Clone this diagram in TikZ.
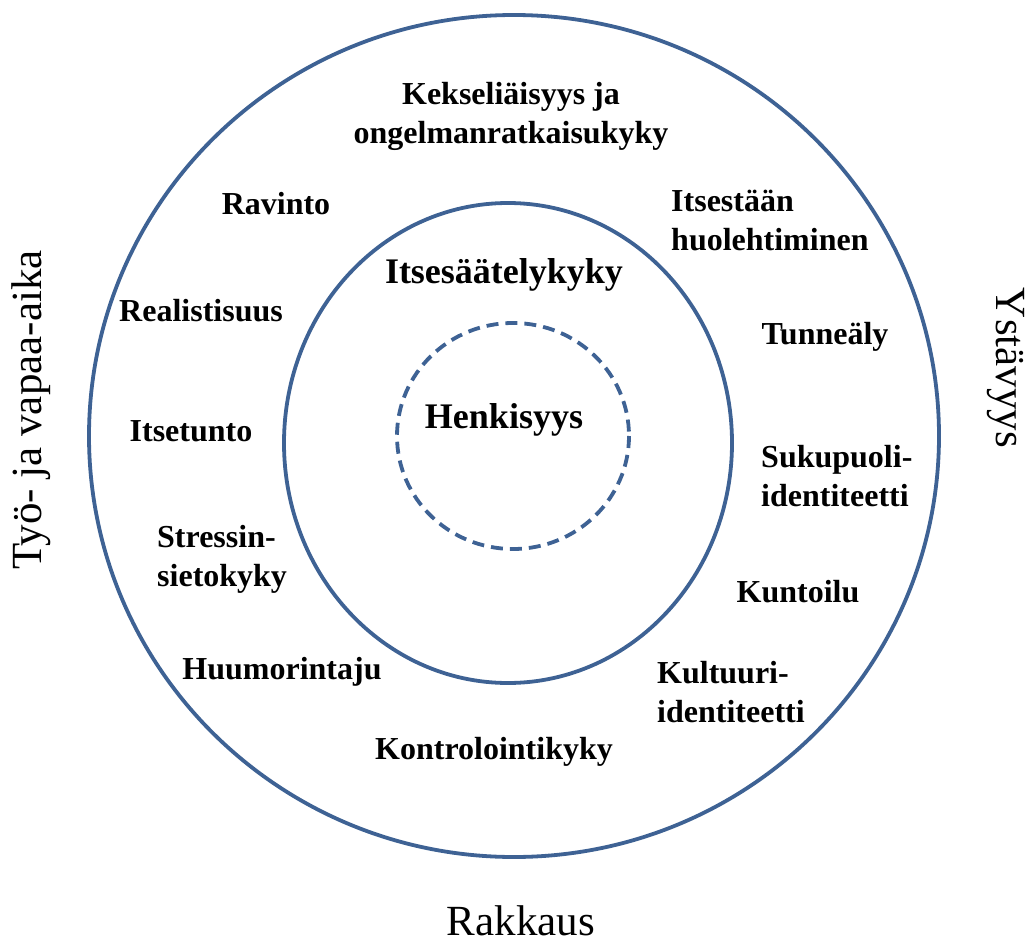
\documentclass[tikz,border=0pt]{standalone}
\usepackage{fontspec}
\setmainfont{Liberation Serif}
\usetikzlibrary{positioning}

\definecolor{ringblue}{RGB}{62,98,148}

\begin{document}
\begin{tikzpicture}[x=1pt, y=-1pt]
    % Define styles for rings and labels
    \tikzset{ring/.style={draw=ringblue, line width=3.8pt},
             trait/.style={font=\fontsize{32}{39}\selectfont\bfseries, inner sep=0pt, align=center},
             traitl/.style={trait, align=left, anchor=west},
             core/.style={font=\fontsize{36}{42}\selectfont\bfseries, inner sep=0pt},
             side/.style={font=\fontsize{43}{50}\selectfont, inner sep=0pt}}
    \useasboundingbox (0,0) rectangle (1033,947);

    % Rings
    \coordinate (outer_c) at (514,436);
    \coordinate (mid_c) at (508,443);
    \coordinate (inner_c) at (513,436);
    \draw[ring] (outer_c) ellipse [x radius=425, y radius=421];
    \draw[ring] (mid_c) ellipse [x radius=224, y radius=240];
    \draw[ring, dash pattern=on 12pt off 7pt] (inner_c) ellipse [x radius=116, y radius=113];

    % Core labels
    \node[core] (henkisyys) at (504,420) {Henkisyys};
    \node[core] (itsesaately) at (504,275) {Itsesäätelykyky};

    % Labels in the outer ring
    \node[trait] (keksel) at (511,116) {Kekseliäisyys ja\\ongelmanratkaisukyky};
    \node[trait] (ravinto) at (276,204) {Ravinto};
    \node[traitl] (itsestaan) at (671,220) {Itsestään\\huolehtiminen};
    \node[trait] (realist) at (201,311) {Realistisuus};
    \node[trait] (tunne) at (825,337) {Tunneäly};
    \node[trait] (itsetunto) at (191,431) {Itsetunto};
    \node[traitl] (sukupuoli) at (761,476) {Sukupuoli-\\identiteetti};
    \node[traitl] (stressi) at (157,559) {Stressin-\\sietokyky};
    \node[trait] (kuntoilu) at (798,592) {Kuntoilu};
    \node[trait] (huumori) at (282,672) {Huumorintaju};
    \node[traitl] (kulttuuri) at (657,692) {Kultuuri-\\identiteetti};
    \node[trait] (kontrolli) at (494,752) {Kontrolointikyky};

    % Side labels
    \node[side] (rakkaus) at (521,921) {Rakkaus};
    \node[side, rotate=90] (tyo) at (31,410) {Työ- ja vapaa-aika};
    \node[side, rotate=-90] (ystavyys) at (1006,368) {Ystävyys};

\end{tikzpicture}
\end{document}
